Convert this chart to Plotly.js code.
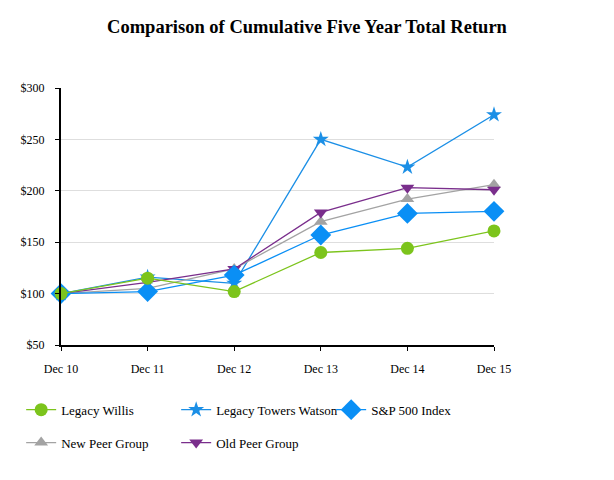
<!DOCTYPE html>
<html>
<head>
<meta charset="utf-8">
<script src="https://cdn.plot.ly/plotly-3.0.1.min.js"></script>
<style>
  html, body { margin: 0; padding: 0; background: #fff; }
  #chart { width: 614px; height: 480px; }
</style>
</head>
<body>
<div id="chart"></div>
<script>
// values
const years = ["Dec 10", "Dec 11", "Dec 12", "Dec 13", "Dec 14", "Dec 15"];
const legacyWillis = [100, 115, 102, 140, 144, 161];
const legacyTowersWatson = [100, 116, 110, 250, 223, 274];
const sp500 = [100, 102, 118, 157, 178, 180];
const newPeerGroup = [100, 105, 124, 170, 192, 206];
const oldPeerGroup = [100, 111, 124, 179, 203, 201];
const yTicks = [50, 100, 150, 200, 250, 300];

const serif = "Liberation Serif, Times New Roman, serif";

function line(name, ys, color, symbol, size, legend) {
    return {
        x: years,
        y: ys,
        name: name,
        type: "scatter",
        mode: "lines+markers",
        line: {color: color, width: 1.3},
        marker: {color: color, symbol: symbol, size: size},
        cliponaxis: false,
        legend: legend
    };
}

// drawn back to front like the original
var data = [
    line("Legacy Towers Watson", legacyTowersWatson, "#1b8fe6", "star", 12, "legend"),
    line("New Peer Group", newPeerGroup, "#a3a3a3", "triangle-up", 12, "legend2"),
    line("Old Peer Group", oldPeerGroup, "#7a2e8c", "triangle-down", 12, "legend2"),
    line("S&P 500 Index", sp500, "#0a8ff5", "diamond", 16, "legend"),
    line("Legacy Willis", legacyWillis, "#7cc41c", "circle", 13, "legend")
];

// legend order in the picture
var order = ["Legacy Willis", "Legacy Towers Watson", "S&P 500 Index", "New Peer Group", "Old Peer Group"];
data.forEach(t => { t.legendrank = order.indexOf(t.name) + 1; });

var legendBase = {
    orientation: "h",
    x: -0.092, xanchor: "left",
    yanchor: "middle",
    entrywidth: 110, entrywidthmode: "pixels",
    font: {family: serif, size: 13, color: "#000"},
    bgcolor: "rgba(0,0,0,0)"
};

var layout = {
    width: 614,
    height: 480,
    margin: {l: 61, r: 120, t: 88, b: 135},
    paper_bgcolor: "#fff",
    plot_bgcolor: "#fff",
    showlegend: true,
    title: {
        text: "Comparison of Cumulative Five Year Total Return",
        font: {family: serif, size: 18.5, color: "#000", weight: "bold"},
        x: 0.5, xref: "container", xanchor: "center",
        y: 1 - 27 / 480, yref: "container", yanchor: "middle"
    },
    xaxis: {
        type: "category",
        range: [0, 5],
        showgrid: false,
        showline: true, linecolor: "#000", linewidth: 2,
        ticks: "outside", ticklen: 4, tickcolor: "#000",
        ticklabelstandoff: 8,
        tickfont: {family: serif, size: 12, color: "#000"},
        fixedrange: true
    },
    yaxis: {
        range: [50, 300],
        tickvals: yTicks,
        ticktext: yTicks.map(v => "$" + v),
        showgrid: true, gridcolor: "#dedede", gridwidth: 1,
        zeroline: false,
        showline: true, linecolor: "#000", linewidth: 2,
        ticks: "outside", ticklen: 4, tickcolor: "#000",
        ticklabelstandoff: 8,
        tickfont: {family: serif, size: 12, color: "#000"},
        fixedrange: true
    },
    legend: Object.assign({}, legendBase, {y: -0.252}),
    legend2: Object.assign({}, legendBase, {y: -0.38})
};

Plotly.newPlot("chart", data, layout, {displayModeBar: false, staticPlot: true});
</script>
</body>
</html>
